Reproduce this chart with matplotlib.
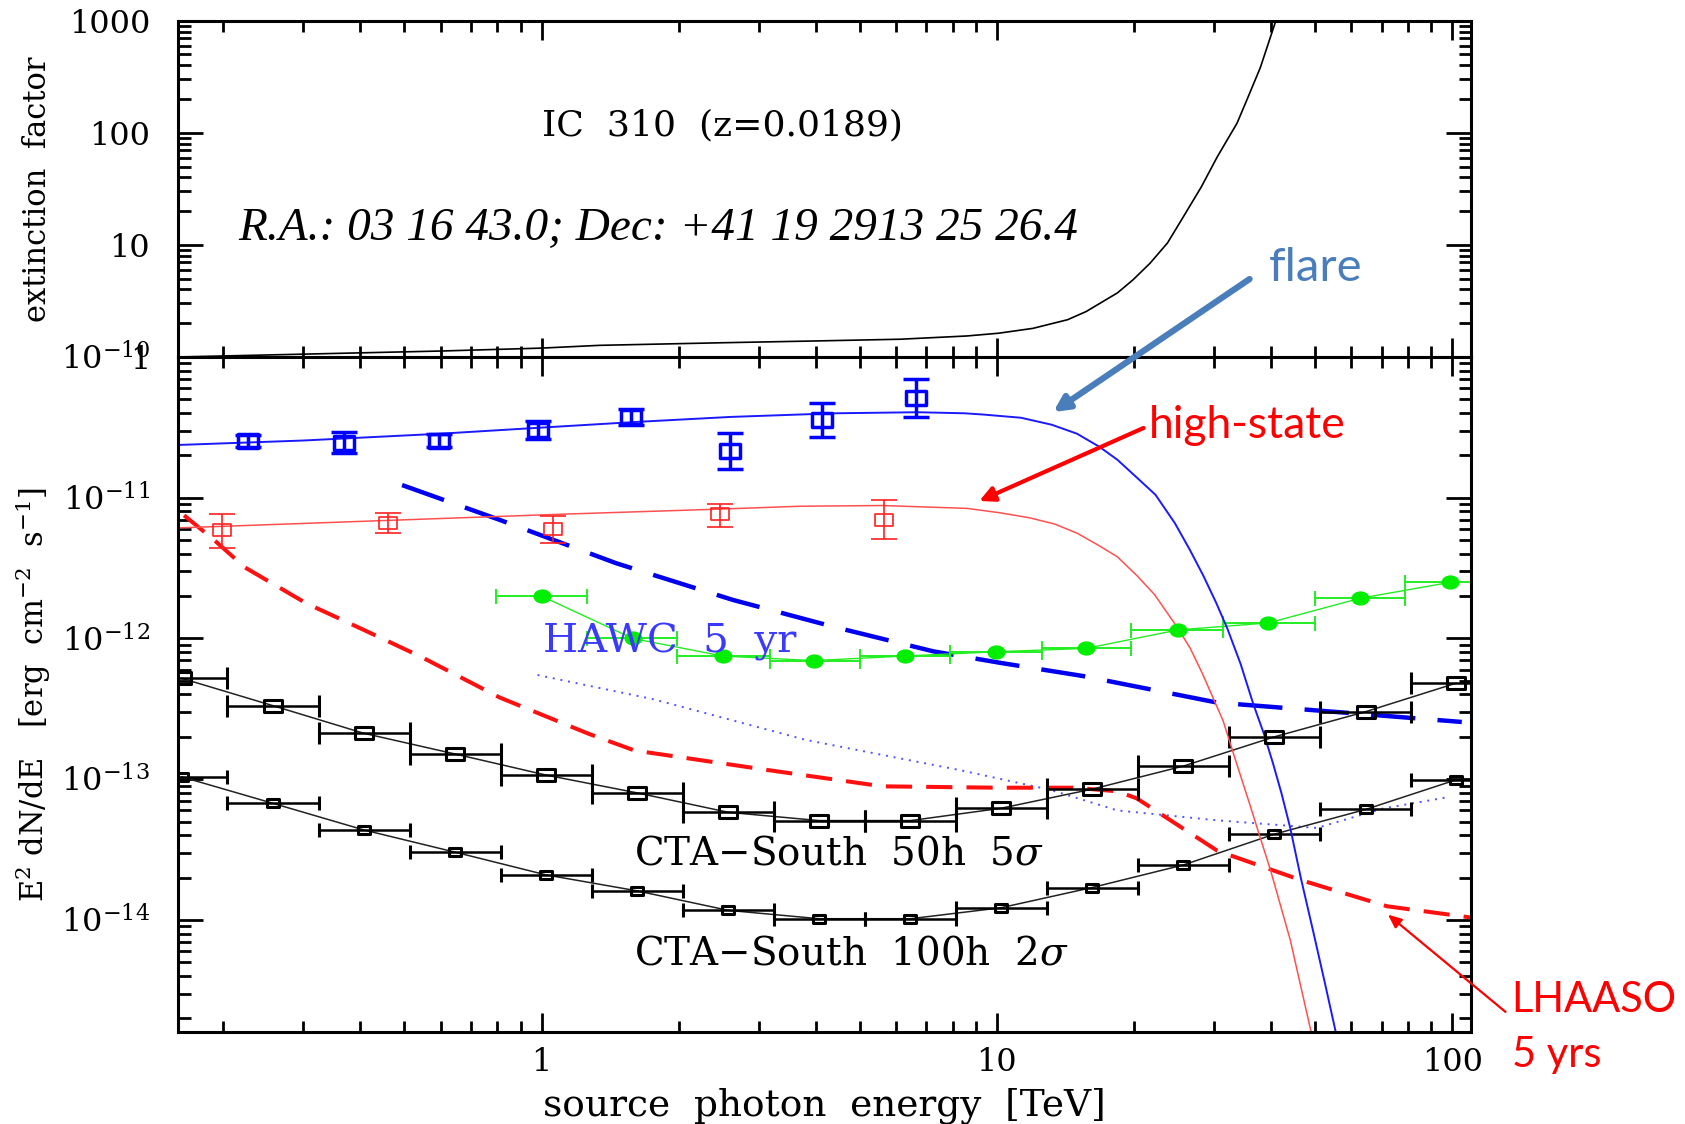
import numpy as np
import matplotlib
matplotlib.use('Agg')
import matplotlib.pyplot as plt
from matplotlib.path import Path
from matplotlib.transforms import Affine2D
from matplotlib.ticker import LogLocator, NullFormatter

plt.rcParams['font.family'] = 'DejaVu Serif'
plt.rcParams['mathtext.fontset'] = 'dejavuserif'

# --- top panel: EBL extinction factor for z = 0.0189
ext_e = [0.159, 0.3, 0.6, 1.0, 1.34, 2.5, 4.0, 6.13, 8.6, 10.1, 12.0, 14.3, 15.7, 18.4, 19.9,
         21.7, 23.7, 25.7, 28.1, 30.5, 33.7, 35.4, 37.9, 41.0]
ext_f = [1.0, 1.06, 1.13, 1.2, 1.27, 1.34, 1.39, 1.44, 1.54, 1.63, 1.80, 2.15, 2.54, 3.73, 4.87,
         6.86, 10.4, 17.9, 32.7, 61.2, 122, 196, 381, 1000]

# --- flare spectrum (blue)
flare_e = [0.227, 0.368, 0.596, 0.981, 1.57, 2.60, 4.13, 6.65]
flare_f = [2.53e-11, 2.46e-11, 2.53e-11, 3.03e-11, 3.73e-11, 2.16e-11, 3.56e-11, 5.15e-11]
flare_lo = [2.28e-11, 2.07e-11, 2.28e-11, 2.60e-11, 3.29e-11, 1.60e-11, 2.69e-11, 3.77e-11]
flare_hi = [2.79e-11, 2.92e-11, 2.82e-11, 3.52e-11, 4.25e-11, 2.87e-11, 4.69e-11, 6.98e-11]
flare_fit_e = [0.159, 0.3, 0.6, 1.0, 1.6, 2.6, 4.4, 6.7, 8.5, 9.33, 11.3, 13.2, 15.0, 16.8,
               18.4, 20.5, 22.3, 24.6, 26.5, 28.4, 30.3, 32.1, 34.3, 36.6, 38.6, 40.4, 42.2,
               44.1, 46.5, 49.6, 52.5, 55.5]
flare_fit_f = [2.37e-11, 2.55e-11, 2.85e-11, 3.15e-11, 3.45e-11, 3.75e-11, 3.98e-11, 4.05e-11,
               3.98e-11, 3.9e-11, 3.7e-11, 3.3e-11, 2.85e-11, 2.3e-11, 1.86e-11, 1.35e-11,
               1.05e-11, 6.6e-12, 4.3e-12, 2.8e-12, 1.8e-12, 1.17e-12, 6.6e-13, 3.4e-13,
               2.1e-13, 1.3e-13, 7.9e-14, 4.5e-14, 2.0e-14, 8.1e-15, 3.6e-15, 1.6e-15]

# --- high-state spectrum (red)
hs_e = [0.199, 0.461, 1.06, 2.46, 5.64]
hs_f = [5.90e-12, 6.58e-12, 6.00e-12, 7.64e-12, 6.95e-12]
hs_lo = [4.38e-12, 5.59e-12, 4.80e-12, 6.22e-12, 5.07e-12]
hs_hi = [7.67e-12, 7.76e-12, 7.41e-12, 9.04e-12, 9.64e-12]
hs_fit_e = [0.159, 0.46, 1.06, 2.46, 3.7, 5.6, 8.6, 10.2, 11.8, 13.4, 15.0, 16.7, 18.4, 20.3,
            22.2, 24.9, 26.6, 28.3, 31.4, 33.6, 36.0, 40.0, 44.1, 49.0]
hs_fit_f = [6.1e-12, 6.9e-12, 7.6e-12, 8.3e-12, 8.7e-12, 8.8e-12, 8.4e-12, 7.8e-12, 7.2e-12,
            6.5e-12, 5.6e-12, 4.6e-12, 3.8e-12, 2.8e-12, 2.05e-12, 1.2e-12, 8.5e-13, 5.6e-13,
            2.6e-13, 1.3e-13, 6.5e-14, 2.2e-14, 7.2e-15, 1.6e-15]

# --- HAWC 5 yr sensitivity (long dashes) and dotted curve
hawc_e = [0.494, 0.81, 1.46, 2.63, 4.38, 7.25, 10.2, 15.5, 30.5, 59.7, 105]
hawc_f = [1.23e-11, 6.95e-12, 3.42e-12, 1.88e-12, 1.21e-12, 8.1e-13, 6.7e-13, 5.4e-13,
          3.5e-13, 2.95e-13, 2.55e-13]
dot_e = [0.98, 1.76, 3.81, 8.3, 13.1, 18.4, 30.5, 42.6, 50.4, 70.6, 99]
dot_f = [5.5e-13, 3.7e-13, 1.9e-13, 1.16e-13, 8.4e-14, 6.0e-14, 5.1e-14, 4.7e-14, 4.5e-14,
         6.2e-14, 7.5e-14]

# --- LHAASO 5 yrs sensitivity (red dashes)
lhaaso_e = [0.164, 0.191, 0.223, 0.304, 0.407, 0.544, 0.81, 1.27, 1.6, 3.15, 5.6, 10.0, 14.8,
            18.4, 20.3, 30.5, 46.5, 72, 110]
lhaaso_f = [7.5e-12, 5.0e-12, 3.2e-12, 1.78e-12, 1.15e-12, 7.4e-13, 3.8e-13, 2.1e-13, 1.6e-13,
            1.16e-13, 8.9e-14, 8.7e-14, 8.7e-14, 8.2e-14, 7.3e-14, 3.1e-14, 1.92e-14, 1.25e-14,
            1.04e-14]

# --- green points with energy bins
grn_e = [1.0, 1.586, 2.50, 3.96, 6.28, 9.97, 15.7, 25.0, 39.5, 62.8, 98.7]
grn_f = [2.0e-12, 1.0e-12, 7.5e-13, 6.96e-13, 7.5e-13, 8.05e-13, 8.5e-13, 1.15e-12, 1.29e-12,
         1.93e-12, 2.5e-12]
grn_lo = [0.796, 1.26, 1.98, 3.17, 5.01, 7.9, 12.55, 19.7, 31.4, 49.9, 78.6]
grn_hi = [1.26, 1.98, 3.17, 5.01, 7.9, 12.55, 19.7, 31.4, 49.9, 78.6, 125]

# --- CTA-South differential sensitivity
cta_e = [0.162, 0.257, 0.407, 0.646, 1.023, 1.62, 2.57, 4.07, 6.46, 10.2, 16.2, 25.7, 40.7,
         64.6, 102]
cta_lo = [0.129, 0.204, 0.324, 0.513, 0.813, 1.29, 2.04, 3.24, 5.13, 8.13, 12.9, 20.4, 32.4,
          51.3, 81.3]
cta_hi = [0.204, 0.324, 0.513, 0.813, 1.29, 2.04, 3.24, 5.13, 8.13, 12.9, 20.4, 32.4, 51.3,
          81.3, 129]
cta50_f = [5.21e-13, 3.33e-13, 2.12e-13, 1.51e-13, 1.07e-13, 8.0e-14, 5.82e-14, 5.08e-14,
           5.08e-14, 6.21e-14, 8.5e-14, 1.24e-13, 2.0e-13, 3.02e-13, 4.81e-13]
cta100_f = [1.04e-13, 6.74e-14, 4.36e-14, 3.03e-14, 2.09e-14, 1.61e-14, 1.17e-14, 1.02e-14,
            1.02e-14, 1.22e-14, 1.70e-14, 2.46e-14, 4.07e-14, 6.1e-14, 9.9e-14]

# rectangular and elliptical markers
box = Path([(-0.7, -0.5), (0.7, -0.5), (0.7, 0.5), (-0.7, 0.5), (-0.7, -0.5)],
           [Path.MOVETO, Path.LINETO, Path.LINETO, Path.LINETO, Path.CLOSEPOLY])
oval = Path.unit_circle().transformed(Affine2D().scale(1.3, 1.0))


def yerr(y, lo, hi):
    y, lo, hi = map(np.asarray, (y, lo, hi))
    return [y - lo, hi - y]


def style_axes(ax):
    ax.set_xscale('log')
    ax.set_yscale('log')
    ax.set_xlim(0.159, 110)
    ax.tick_params(which='both', direction='in', top=True, right=True, width=2)
    ax.tick_params(axis='x', which='major', length=14)
    ax.tick_params(axis='x', which='minor', length=8)
    ax.tick_params(axis='y', which='major', length=18)
    ax.tick_params(axis='y', which='minor', length=9)
    ax.tick_params(axis='y', labelsize=23, pad=20)
    ax.tick_params(axis='x', labelsize=23, pad=11)
    ax.xaxis.set_minor_locator(LogLocator(subs=np.arange(2, 10)))
    ax.yaxis.set_minor_locator(LogLocator(subs=np.arange(2, 10)))
    ax.xaxis.set_minor_formatter(NullFormatter())
    ax.yaxis.set_minor_formatter(NullFormatter())
    for s in ax.spines.values():
        s.set_linewidth(2.2)


fig = plt.figure(figsize=(16.85, 11.24), dpi=100)
ax_t = fig.add_axes([0.1056, 0.6824, 0.7674, 0.2992])
ax = fig.add_axes([0.1056, 0.0819, 0.7674, 0.6005])

# top panel
style_axes(ax_t)
ax_t.set_ylim(1, 1000)
ax_t.plot(ext_e, ext_f, color='black', lw=1.2)
ax_t.set_yticks([1, 10, 100, 1000], ['1', '10', '100', '1000'])
ax_t.set_xticks([1, 10, 100])
ax_t.tick_params(axis='x', labelbottom=False)
ax_t.set_ylabel('extinction  factor', fontsize=22)
ax_t.yaxis.set_label_coords(-0.097, 0.5)
ax_t.text(1.0, 95.5, 'IC  310  (z=0.0189)', fontsize=26, va='baseline')
ax_t.text(0.216, 11.06, 'R.A.: 03 16 43.0; Dec: +41 19 2913 25 26.4', fontsize=34,
          family='Liberation Serif', style='italic', va='baseline')

# bottom panel
style_axes(ax)
ax.set_ylim(1.6e-15, 1e-10)
ax.set_yticks([1e-14, 1e-13, 1e-12, 1e-11, 1e-10],
              [r'$10^{-14}$', r'$10^{-13}$', r'$10^{-12}$', r'$10^{-11}$', r'$10^{-10}$'])
ax.set_xticks([1, 10, 100], ['1', '10', '100'])
ax.set_xlabel('source  photon  energy  [TeV]', fontsize=27)
ax.xaxis.set_label_coords(0.5, -0.082)
ax.set_ylabel(r'E$^2$ dN/dE   [erg  cm$^{-2}$  s$^{-1}$]', fontsize=22)
ax.yaxis.set_label_coords(-0.097, 0.5)

# sensitivity curves
ax.plot(hawc_e, hawc_f, color='#0000ee', lw=3.2, dashes=(10, 5))
ax.plot(dot_e, dot_f, color='#5050ff', lw=1.4, dashes=(1, 3))
ax.plot(lhaaso_e, lhaaso_f, color='#ff1010', lw=2.9, dashes=(6.5, 3.5))

# CTA-South
for flux, ms, cap in ((cta50_f, 12.5, 8), (cta100_f, 8, 4.7)):
    ax.plot(cta_e, flux, color='#222222', lw=1.1)
    ax.errorbar(cta_e, flux, xerr=yerr(cta_e, cta_lo, cta_hi), ls='none', marker=box,
                ms=ms, mfc='none', mec='black', mew=2.2, ecolor='black', elinewidth=1.8,
                capsize=cap, capthick=1.8)

# HAWC-like green points
ax.plot(grn_e, grn_f, color='#22ee22', lw=1.0)
ax.errorbar(grn_e, grn_f, xerr=yerr(grn_e, grn_lo, grn_hi), ls='none', marker=oval, ms=12,
            mfc='#00ee00', mec='#00ee00', ecolor='#22ee22', elinewidth=1.4, capsize=5.4,
            capthick=1.4)

# spectra
ax.plot(hs_fit_e, hs_fit_f, color='#ff5050', lw=1.1)
ax.errorbar(hs_e, hs_f, yerr=yerr(hs_f, hs_lo, hs_hi), ls='none', marker=box, ms=12.5,
            mfc='none', mec='#ff2020', mew=1.2, ecolor='#ff2020', elinewidth=1.2, capsize=9.5,
            capthick=1.2)
ax.plot(flare_fit_e, flare_fit_f, color='#1a1aff', lw=1.4)
ax.errorbar(flare_e, flare_f, yerr=yerr(flare_f, flare_lo, flare_hi), ls='none', marker=box,
            ms=14, mfc='none', mec='#0000ff', mew=2.5, ecolor='#0000ff', elinewidth=2.5,
            capsize=9.7, capthick=2.5)

# labels inside the panel
ax.text(1.0076, 7.89e-13, 'HAWC  5  yr', fontsize=29, color='#3a3aff', va='baseline')
ax.text(1.597, 2.46e-14, 'CTA\u2212South  50h  5$\\sigma$', fontsize=28, va='baseline')
ax.text(1.597, 4.86e-15, 'CTA\u2212South  100h  2$\\sigma$', fontsize=28, va='baseline')

# call-outs
ax.annotate('', xy=(13.3, 4.06e-11), xytext=(35.9, 3.58e-10), annotation_clip=False,
            arrowprops=dict(arrowstyle='-|>,head_length=0.9,head_width=0.45',
                            color='#4a7ebb', lw=4.5, shrinkA=0, shrinkB=0))
ax.text(39.5, 3.47e-10, 'flare', fontsize=34, color='#4a7ebb', family='Lato', va='baseline')
ax.annotate('', xy=(9.15, 9.48e-12), xytext=(21.0, 3.13e-11), annotation_clip=False,
            arrowprops=dict(arrowstyle='-|>,head_length=0.9,head_width=0.45',
                            color='#ff0000', lw=3, shrinkA=0, shrinkB=0))
ax.text(21.6, 2.66e-11, 'high-state', fontsize=32, color='#ff0000', family='Lato',
        va='baseline')
ax.annotate('', xy=(72.3, 1.09e-14), xytext=(131, 2.22e-15), annotation_clip=False,
            arrowprops=dict(arrowstyle='-|>,head_length=0.8,head_width=0.35',
                            color='#ff0000', lw=1.6, shrinkA=0, shrinkB=0))
ax.text(135, 2.22e-15, 'LHAASO', fontsize=30, color='#ff0000', family='Lato', va='baseline')
ax.text(135, 9.0e-16, '5 yrs', fontsize=30, color='#ff0000', family='Lato', va='baseline')

fig.savefig('out.png', dpi=100)
